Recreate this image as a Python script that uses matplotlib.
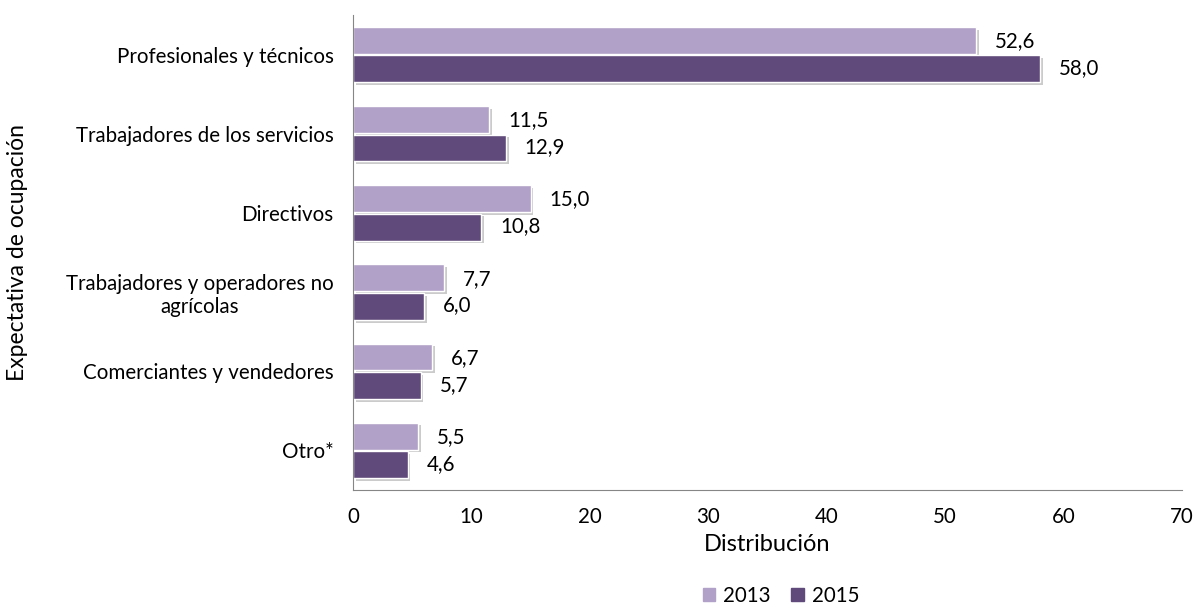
import matplotlib
matplotlib.use("Agg")
from matplotlib import pyplot as plt
import matplotlib.patheffects as pe
import numpy as np

plt.rcParams['font.family'] = ['Lato', 'DejaVu Sans']

categorias = ['Profesionales y técnicos', 'Trabajadores de los servicios', 'Directivos',
              'Trabajadores y operadores no\nagrícolas', 'Comerciantes y vendedores', 'Otro*']
v2013 = [52.6, 11.5, 15.0, 7.7, 6.7, 5.5]
v2015 = [58.0, 12.9, 10.8, 6.0, 5.7, 4.6]
ticks_x = [0, 10, 20, 30, 40, 50, 60, 70]

c2013 = '#B1A0C7'
c2015 = '#604A7B'
fs = 14.8

fig = plt.figure(figsize=(11.98, 6.09), dpi=100)
ax = fig.add_axes([0.2947, 0.1954, 0.692, 0.78])

y = np.arange(len(categorias))
h = 0.34
sombra = [pe.SimplePatchShadow(offset=(2, -2), shadow_rgbFace='#999999', alpha=0.5), pe.Normal()]

b1 = ax.barh(y - h / 2 - 0.01, v2013, height=h, color=c2013, edgecolor='white', linewidth=1.0)
b2 = ax.barh(y + h / 2 + 0.01, v2015, height=h, color=c2015, edgecolor='white', linewidth=1.0)
for b in list(b1) + list(b2):
    b.set_path_effects(sombra)

for yy, v in zip(y - h / 2, v2013):
    ax.text(v + 1.6, yy, f'{v:.1f}'.replace('.', ','), va='center', ha='left', fontsize=fs)
for yy, v in zip(y + h / 2, v2015):
    ax.text(v + 1.6, yy, f'{v:.1f}'.replace('.', ','), va='center', ha='left', fontsize=fs)

ax.set_ylim(5.5, -0.5)
ax.set_xlim(0, 70)
ax.set_xticks(ticks_x)
ax.set_yticks(y)
ax.set_yticklabels(categorias, fontsize=fs, multialignment='center')
ax.tick_params(axis='x', labelsize=fs, length=0, pad=12)
ax.tick_params(axis='y', length=0, pad=14)
for s in ['top', 'right']:
    ax.spines[s].set_visible(False)
for s in ['left', 'bottom']:
    ax.spines[s].set_color('#868686')

ax.set_xlabel('Distribución', fontsize=17, labelpad=5)
ax.set_ylabel('Expectativa de ocupación', fontsize=16.5)
ax.yaxis.set_label_coords(-0.392, 0.5)

h1 = plt.Rectangle((0, 0), 1, 1, color=c2013)
h2 = plt.Rectangle((0, 0), 1, 1, color=c2015)
fig.legend(handles=[h1, h2], labels=['2013', '2015'], loc='lower center', bbox_to_anchor=(0.652, -0.025),
           ncol=2, frameon=False, fontsize=fs, handlelength=0.6, handleheight=0.6, columnspacing=1.0,
           handletextpad=0.4)

plt.savefig('out.png', dpi=100)
